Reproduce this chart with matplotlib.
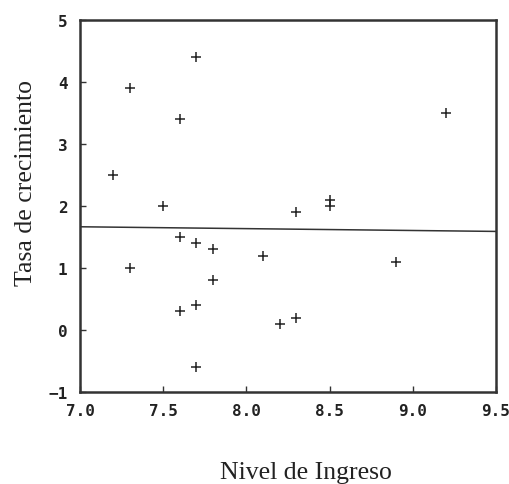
import matplotlib
matplotlib.use("Agg")
import matplotlib.pyplot as plt

# Data
ingreso = [7.2, 7.3, 7.7, 7.6, 7.5, 8.3, 8.5, 8.5, 9.2, 7.6, 7.7, 7.8, 8.1, 8.9,
           7.3, 7.8, 7.7, 7.6, 8.3, 8.2, 7.7]
crecimiento = [2.5, 3.9, 4.4, 3.4, 2.0, 1.9, 2.0, 2.1, 3.5, 1.5, 1.4, 1.3, 1.2, 1.1,
               1.0, 0.8, 0.4, 0.3, 0.2, 0.1, -0.6]
linea_x = [7.0, 9.5]
linea_y = [1.665, 1.59]
xticks = [7.0, 7.5, 8.0, 8.5, 9.0, 9.5]
xtick_labels = ["7.0", "7.5", "8.0", "8.5", "9.0", "9.5"]
yticks = [-1, 0, 1, 2, 3, 4, 5]
ytick_labels = ["\u22121", "0", "1", "2", "3", "4", "5"]

fig = plt.figure(figsize=(5.1, 4.85), dpi=100)
ax = fig.add_axes([80/510, 1-393/485, 416/510, 372/485])

ax.scatter(ingreso, crecimiento, marker="+", s=50, c="#222222", linewidths=1.1)
ax.plot(linea_x, linea_y, color="#333333", lw=1.1)

ax.set_xlim(7.0, 9.5)
ax.set_ylim(-1, 5)
ax.set_xticks(xticks)
ax.set_xticklabels(xtick_labels, family="DejaVu Sans Mono", fontsize=11.5, fontweight="bold", color="#222222")
ax.set_yticks(yticks)
ax.set_yticklabels(ytick_labels, family="DejaVu Sans Mono", fontsize=11.5, fontweight="bold", color="#222222")
ax.tick_params(direction="in", length=4, width=1, color="#333333")
ax.tick_params(axis="x", pad=8)
ax.tick_params(axis="y", pad=9)
for sp in ax.spines.values():
    sp.set_linewidth(1.8)
    sp.set_color("#333333")

ax.set_xlabel("Nivel de Ingreso", family="Liberation Serif", fontsize=18.5, color="#222222")
ax.xaxis.set_label_coords(0.543, -0.185)
ax.set_ylabel("Tasa de crecimiento", family="Liberation Serif", fontsize=18.5, color="#222222")
ax.yaxis.set_label_coords(-0.103, 0.565)

fig.savefig("out.png", dpi=100)
